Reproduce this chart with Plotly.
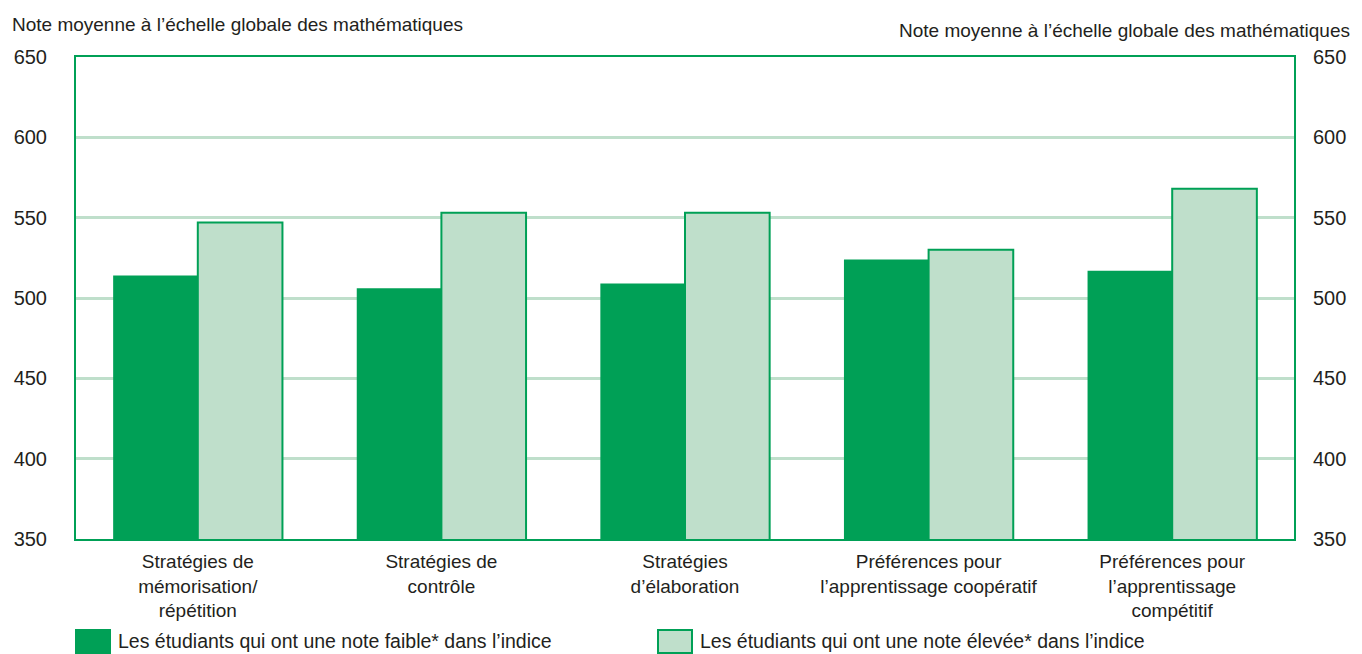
import plotly.graph_objects as go

# Categories and values
categories = [
    "Stratégies de<br>mémorisation/<br>répétition",
    "Stratégies de<br>contrôle",
    "Stratégies<br>d’élaboration",
    "Préférences pour<br>l’apprentissage coopératif",
    "Préférences pour<br>l’apprentissage<br>compétitif",
]
low_scores = [514, 506, 509, 524, 517]
high_scores = [547, 553, 553, 530, 568]
y_ticks = [350, 400, 450, 500, 550, 600, 650]

low_name = "Les étudiants qui ont une note faible* dans l’indice"
high_name = "Les étudiants qui ont une note élevée* dans l’indice"
axis_title = "Note moyenne à l’échelle globale des mathématiques"

dark_green = "#00a056"
light_green = "#bfdfcb"
text_color = "#231f20"
font_family = "Liberation Sans Narrow, Arial Narrow, Liberation Sans, Arial, sans-serif"

# plot area in pixels (used for paper-coordinate annotations)
PW, PH = 1218, 482

fig = go.Figure()

fig.add_trace(go.Bar(
    x=categories, y=low_scores, name=low_name,
    marker=dict(color=dark_green, line=dict(width=0)),
    showlegend=False,
))
fig.add_trace(go.Bar(
    x=categories, y=high_scores, name=high_name,
    marker=dict(color=light_green, line=dict(color=dark_green, width=2)),
    showlegend=False,
))
# invisible trace so the right-hand axis gets drawn
fig.add_trace(go.Scatter(
    x=categories, y=high_scores, yaxis="y2", mode="markers",
    marker=dict(opacity=0), hoverinfo="skip", showlegend=False,
))

fig.update_layout(
    width=1362, height=654,
    margin=dict(l=76, r=68, t=57, b=115),
    paper_bgcolor="white", plot_bgcolor="white",
    font=dict(family=font_family, size=19, color=text_color),
    barmode="group", bargap=0.305, bargroupgap=0,
    xaxis=dict(
        showline=True, linecolor=dark_green, linewidth=2, mirror=True,
        showgrid=False, ticks="", ticklabelstandoff=4,
        tickfont=dict(size=19),
    ),
    yaxis=dict(
        range=[350, 650], tickvals=y_ticks,
        showline=True, linecolor=dark_green, linewidth=2, mirror=True,
        showgrid=True, gridcolor=light_green, gridwidth=3,
        zeroline=False, ticks="", ticklabelstandoff=23,
        tickfont=dict(size=20),
    ),
    yaxis2=dict(
        range=[350, 650], tickvals=y_ticks, overlaying="y", side="right",
        showgrid=False, zeroline=False, showline=False, ticks="",
        ticklabelstandoff=18, tickfont=dict(size=20),
    ),
)

# axis titles
fig.add_annotation(
    text=axis_title, xref="paper", yref="paper", x=-66 / PW, y=1 + 33 / PH,
    xanchor="left", yanchor="middle", showarrow=False, font=dict(size=19),
)
fig.add_annotation(
    text=axis_title, xref="paper", yref="paper", x=1 + 58 / PW, y=1 + 26 / PH,
    xanchor="right", yanchor="middle", showarrow=False, font=dict(size=19),
)

# legend drawn below the plot
legend_items = [(low_name, dark_green, 0), (high_name, light_green, 582)]
for name, fill, x0 in legend_items:
    fig.add_shape(
        type="rect", xref="paper", yref="paper",
        x0=x0 / PW, x1=(x0 + 34) / PW,
        y0=-114 / PH, y1=-91 / PH,
        fillcolor=fill, line=dict(color=dark_green, width=2),
    )
    fig.add_annotation(
        text=name, xref="paper", yref="paper", x=(x0 + 40) / PW, y=-102 / PH,
        xanchor="left", yanchor="middle", showarrow=False, font=dict(size=19.5),
    )

fig.write_html(
    "out.html",
    config={"displayModeBar": False},
    post_script="document.body.style.margin='0';document.body.style.overflow='hidden';",
)
